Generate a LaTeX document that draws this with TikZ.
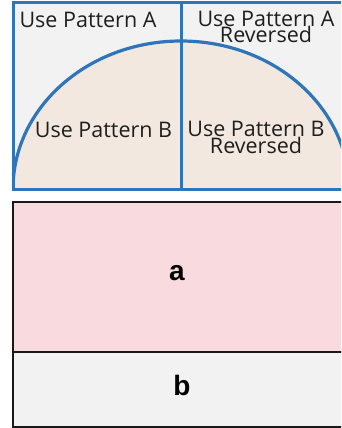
\documentclass[tikz,border=0pt]{standalone}
\usepackage{fontspec}
\setmainfont{Open Sans}
\newfontfamily\boldsans{Liberation Sans}
\definecolor{framegray}{HTML}{F2F2F2}
\definecolor{domebeige}{HTML}{F2E8DF}
\definecolor{lineblue}{HTML}{2E75BA}
\definecolor{boxpink}{HTML}{F9DBDF}
\tikzset{
  patlabel/.style={align=center, inner sep=0pt, font=\fontsize{21.5}{17}\selectfont, text=black!88},
  boxlabel/.style={inner sep=0pt, font=\boldsans\bfseries\fontsize{28}{28}\selectfont},
  blueline/.style={draw=lineblue, line width=3pt},
  blackbox/.style={draw=black!90, line width=2.2pt}
}
\begin{document}
\begin{tikzpicture}[x=1pt,y=-1pt]
\useasboundingbox (0,0) rectangle (341,428);
\clip (0,0) rectangle (341,428);
% top panel
\fill[framegray] (13,3) rectangle (350,189);
\begin{scope}
  \clip (13,3) rectangle (350,189);
  \fill[domebeige] (181,189) ellipse [x radius=168, y radius=148];
  \draw[draw=lineblue, line width=3.2pt] (181,189) ellipse [x radius=168, y radius=148];
\end{scope}
\coordinate (vtop) at (181,3);
\coordinate (vbot) at (181,189);
\draw[blueline] (vtop) -- (vbot);
\draw[blueline] (13,3) rectangle (350,189);
\node[patlabel, anchor=base] (pa) at (88,28) {Use Pattern A};
\node[patlabel, anchor=base] (par) at (266,43) {Use Pattern A\\Reversed};
\node[patlabel, anchor=base] (pb) at (103.5,137) {Use Pattern B};
\node[patlabel, anchor=base] (pbr) at (256,153) {Use Pattern B\\Reversed};
% bottom boxes
\draw[blackbox, fill=boxpink] (13,202) rectangle (350,352);
\draw[blackbox, fill=framegray] (13,352) rectangle (350,427);
\node[boxlabel] (a) at (177,273) {a};
\node[boxlabel] (b) at (182,385) {b};
\end{tikzpicture}
\end{document}
